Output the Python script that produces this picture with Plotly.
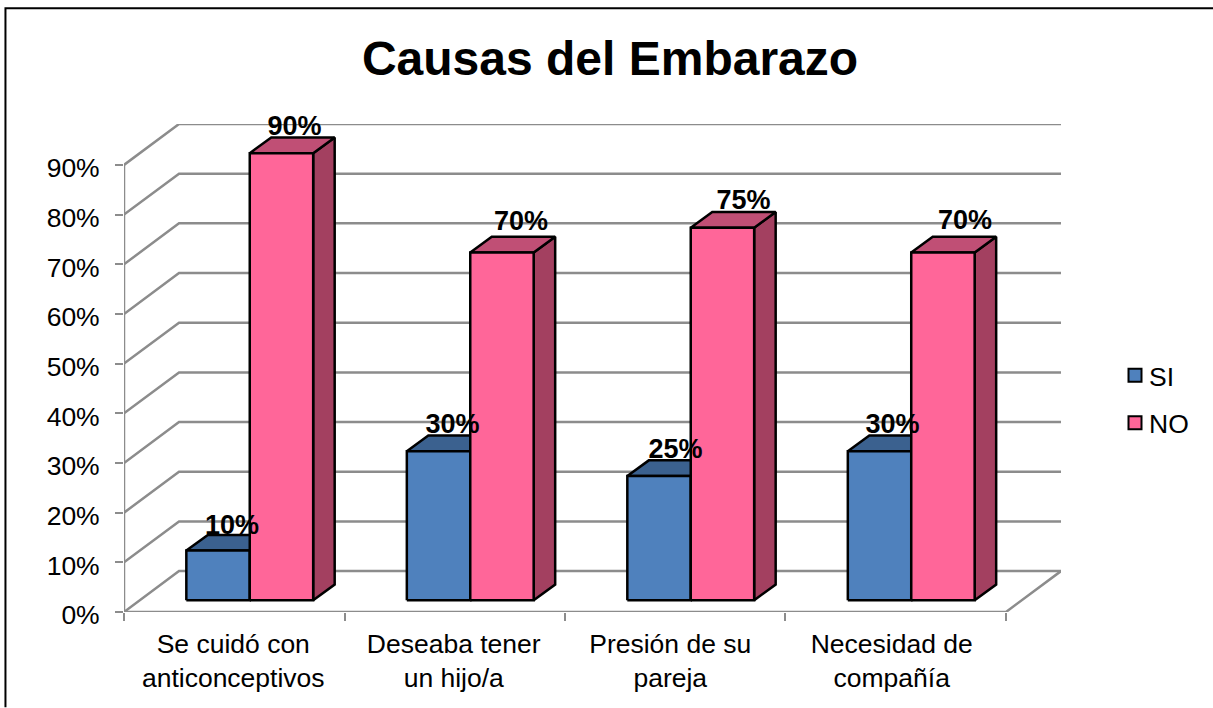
import plotly.graph_objects as go

# ---- data ----
categories = ["Se cuidó con<br>anticonceptivos", "Deseaba tener<br>un hijo/a", "Presión de su<br>pareja", "Necesidad de<br>compañía"]
si_values = [10, 30, 25, 30]
no_values = [90, 70, 75, 70]
y_ticks = [0, 10, 20, 30, 40, 50, 60, 70, 80, 90]
y_tick_labels = [f"{v}%" for v in y_ticks]

# ---- geometry (pixels of the page) ----
W, H = 1213, 708
L, R, T, B = 124.0, 1060.7, 123.5, 612.5
CAT_PX = (1005.7 - 124.0) / 4
PCT_PX = (612.5 - 164.5) / 90
xr = (R - L) / CAT_PX
yr = (B - T) / PCT_PX
WALL_DX, WALL_DY = 55.0 / CAT_PX, 41.0 / PCT_PX
BAR_W = 63.4 / CAT_PX
BAR_X0, BAR_Y0 = 15.5 / CAT_PX, 11.8 / PCT_PX      # bar foot offset on the floor
BAR_DX, BAR_DY = 21.5 / CAT_PX, 15.7 / PCT_PX      # bar depth

GREY = "#8c8c8c"
FONT = "Liberation Sans, Arial, sans-serif"
SI_C = ("#4F81BD", "#3B618F", "#3B618F")
NO_C = ("#FF6699", "#C04F75", "#A34060")

fig = go.Figure()


def line(xs, ys, color=GREY, width=2.5):
    fig.add_trace(go.Scatter(x=xs, y=ys, mode="lines", line=dict(color=color, width=width),
                             showlegend=False, hoverinfo="skip", cliponaxis=False))


def poly(xs, ys, color):
    fig.add_trace(go.Scatter(x=xs + xs[:1], y=ys + ys[:1], mode="lines", fill="toself", fillcolor=color,
                             line=dict(color="#000000", width=2.5), showlegend=False, hoverinfo="skip",
                             cliponaxis=False))


# walls and floor
for v in y_ticks:
    line([0, WALL_DX, xr], [v, v + WALL_DY, v + WALL_DY])
line([0, 0], [0, y_ticks[-1]])
line([0, 4, 4 + WALL_DX], [0, 0, WALL_DY])


def bar(left, value, colors):
    x0, x1 = left, left + BAR_W
    y0, y1 = BAR_Y0, BAR_Y0 + value
    poly([x1, x1 + BAR_DX, x1 + BAR_DX, x1], [y0, y0 + BAR_DY, y1 + BAR_DY, y1], colors[2])
    poly([x0, x0 + BAR_DX, x1 + BAR_DX, x1], [y1, y1 + BAR_DY, y1 + BAR_DY, y1], colors[1])
    poly([x0, x1, x1, x0], [y0, y0, y1, y1], colors[0])


for i, (s, n) in enumerate(zip(si_values, no_values)):
    centre = i + 0.5 + BAR_X0
    bar(centre - BAR_W, s, SI_C)
    bar(centre, n, NO_C)

# data labels
si_label_dx = [14, 14, 16.5, 13]
no_label_dx = [13, 19, 21, 22]
si_label_dy = [23.5, 25, 25, 25]
no_label_dy = [25, 29, 25, 30]
lab_x, lab_y, lab_t = [], [], []
for i, (s, n) in enumerate(zip(si_values, no_values)):
    centre = i + 0.5 + BAR_X0
    lab_x += [centre - BAR_W / 2 + si_label_dx[i] / CAT_PX, centre + BAR_W / 2 + no_label_dx[i] / CAT_PX]
    lab_y += [s + BAR_Y0 + si_label_dy[i] / PCT_PX, n + BAR_Y0 + no_label_dy[i] / PCT_PX]
    lab_t += [f"{s}%", f"{n}%"]
fig.add_trace(go.Scatter(x=lab_x, y=lab_y, text=lab_t, mode="text", textposition="middle center",
                         textfont=dict(family=FONT, size=27, color="#000000"),
                         texttemplate="<b>%{text}</b>", showlegend=False, hoverinfo="skip", cliponaxis=False))

# legend entries
for name, c in (("SI", SI_C[0]), ("NO", NO_C[0])):
    fig.add_trace(go.Scatter(x=[None], y=[None], mode="markers", name=name, legendgroup=name,
                             marker=dict(symbol="square", size=13, color=c, line=dict(color="#000000", width=2))))

# invisible trace that carries the category labels axis
fig.add_trace(go.Scatter(x=[None], y=[None], xaxis="x2", showlegend=False, hoverinfo="skip"))

label_shift_px = [-1, -1, -5, -4]
label_positions = [i + 0.5 + d / CAT_PX for i, d in enumerate(label_shift_px)]

fig.update_layout(
    width=W, height=H, autosize=False,
    margin=dict(l=L, r=W - R, t=T, b=H - B, pad=0),
    paper_bgcolor="#ffffff", plot_bgcolor="#ffffff",
    font=dict(family=FONT, size=26.5, color="#000000"),
    title=dict(text="<b>Causas del Embarazo</b>", font=dict(family=FONT, size=48, color="#000000"),
               x=610 / W, xanchor="center", y=1 - 58 / H, yanchor="middle"),
    xaxis=dict(range=[0, xr], tickvals=[0, 1, 2, 3, 4], ticktext=["", "", "", "", ""], ticks="outside", ticklen=8,
               tickwidth=2, tickcolor=GREY, showgrid=False, zeroline=False, showline=False, fixedrange=True),
    xaxis2=dict(range=[0, xr], overlaying="x", anchor="y", side="bottom", tickvals=label_positions,
                ticktext=categories, ticks="", tickangle=0, showgrid=False, zeroline=False, showline=False,
                tickfont=dict(family=FONT, size=26.5), ticklabelstandoff=13, fixedrange=True),
    yaxis=dict(range=[0, yr], tickvals=y_ticks, ticktext=y_tick_labels, ticks="outside", ticklen=8, tickwidth=2,
               tickcolor=GREY, showgrid=False, zeroline=False, showline=False,
               tickfont=dict(family=FONT, size=26.5), ticklabelstandoff=10, ticklabelshift=3, fixedrange=True),
    legend=dict(x=1109 / W, xref="container", y=1 - 351.5 / H, yref="container", xanchor="left", yanchor="top",
                font=dict(family=FONT, size=26.5), tracegroupgap=10, itemwidth=30, bgcolor="rgba(0,0,0,0)"),
    showlegend=True,
    shapes=[dict(type="path", xref="paper", yref="paper",
                 path=(f"M {(5.5 - L) / (R - L)} {(B - 708) / (B - T)} "
                       f"L {(5.5 - L) / (R - L)} {(B - 7.5) / (B - T)} "
                       f"L {(1213 - L) / (R - L)} {(B - 7.5) / (B - T)}"),
                 line=dict(color="#000000", width=2), layer="below")],
)

PAGE_CSS = ("var s=document.createElement('style');"
            "s.textContent='html,body{margin:0;padding:0;overflow:hidden}.legendsymbols{transform:translateX(6px)}';"
            "document.head.appendChild(s);")
fig.write_html("out.html", config=dict(displayModeBar=False), post_script=PAGE_CSS)
